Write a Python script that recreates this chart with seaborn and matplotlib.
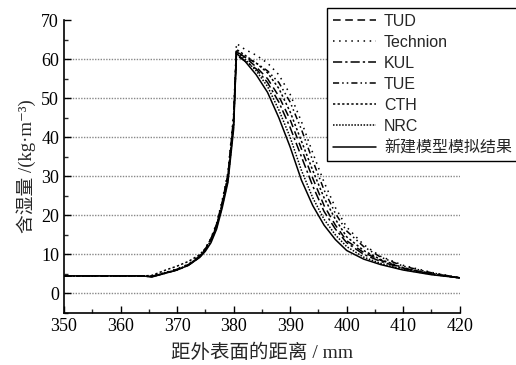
import numpy as np
import pandas as pd
import matplotlib
matplotlib.use("Agg")
import matplotlib.pyplot as plt
from matplotlib.font_manager import FontProperties
from matplotlib.ticker import MultipleLocator
import seaborn as sns

# ---------------- data ----------------
x_mm = [350, 364, 365.5, 368, 370, 372, 374, 375, 376, 377, 378, 379, 380, 380.5,
        382, 384, 386, 388, 390, 392, 394, 396, 398, 400, 403, 406, 410, 415, 420]

series_names = ["TUD", "Technion", "KUL", "TUE", "CTH", "NRC", "新建模型模拟结果"]

tud = [4.5, 4.5, 4.4, 5.3, 6.2, 7.4, 9.6, 11.4, 14.0, 17.8, 23.5, 30.5, 45.0, 62.0,
       60.5, 58.0, 55.0, 50.5, 44.5, 37.0, 29.5, 22.5, 17.5, 13.5, 10.5, 8.5, 6.5, 5.0, 4.0]
technion = [4.5, 4.5, 4.4, 5.4, 6.3, 7.5, 9.7, 11.5, 14.2, 18.0, 24.0, 31.0, 46.0, 64.0,
            62.5, 61.0, 59.0, 56.0, 51.0, 44.0, 36.0, 28.5, 22.0, 17.0, 12.5, 9.5, 7.2, 5.4, 4.0]
kul = [4.5, 4.5, 4.3, 5.2, 6.0, 7.2, 9.3, 11.2, 13.8, 17.5, 23.0, 30.0, 44.0, 61.0,
       59.5, 57.5, 54.0, 49.0, 42.5, 35.0, 27.5, 21.0, 16.5, 13.0, 10.0, 8.2, 6.4, 5.0, 4.0]
tue = [4.5, 4.5, 4.3, 5.3, 6.1, 7.3, 9.5, 11.2, 13.6, 17.2, 23.0, 29.5, 43.5, 62.0,
       60.5, 59.0, 57.0, 54.0, 49.0, 42.0, 34.0, 26.5, 20.5, 16.0, 12.0, 9.3, 7.0, 5.3, 4.0]
cth = [4.5, 4.5, 4.6, 6.0, 7.0, 8.2, 9.9, 11.5, 14.0, 17.5, 23.0, 30.0, 44.0, 62.5,
       61.0, 59.0, 56.5, 52.5, 46.5, 39.0, 31.5, 24.5, 19.0, 14.5, 11.0, 8.7, 6.6, 5.1, 4.0]
nrc = [4.5, 4.5, 4.3, 5.3, 6.1, 7.3, 9.4, 11.0, 13.3, 17.0, 22.5, 29.0, 43.0, 62.0,
       60.0, 57.0, 53.0, 47.0, 40.0, 31.5, 24.5, 19.0, 15.0, 12.0, 9.3, 7.7, 6.1, 4.9, 4.0]
new_model = [4.5, 4.5, 4.2, 5.2, 6.0, 7.2, 9.2, 10.8, 13.0, 16.5, 22.0, 28.5, 42.0, 61.5,
             59.5, 56.0, 51.5, 45.0, 37.5, 29.0, 22.5, 17.5, 13.8, 11.0, 8.8, 7.4, 6.0, 4.8, 4.0]

x_ticks = [350, 360, 370, 380, 390, 400, 410, 420]
y_ticks = [0, 10, 20, 30, 40, 50, 60, 70]

values = dict(zip(series_names, [tud, technion, kul, tue, cth, nrc, new_model]))
df = pd.concat(
    [pd.DataFrame({"x": x_mm, "y": v, "series": k}) for k, v in values.items()],
    ignore_index=True,
)

# ---------------- style ----------------
sns.set_style("ticks")
plt.rcParams["font.family"] = ["Liberation Serif", "Noto Sans CJK SC", "DejaVu Serif"]

dash_map = {
    "TUD": (5, 3),
    "Technion": (1, 3),
    "KUL": (6, 2, 1.5, 2),
    "TUE": (4, 2, 1, 2, 1, 2),
    "CTH": (1.5, 1.5),
    "NRC": (1, 1),
    "新建模型模拟结果": "",
}
palette = {k: "black" for k in series_names}

fig = plt.figure(figsize=(5.16, 3.65), dpi=100)
ax = fig.add_axes([0.124, 0.1425, 0.767, 0.8025])

for yv in y_ticks[:-1]:
    ax.axhline(yv, color="#888888", lw=1.0, ls=(0, (1, 1)), zorder=0)

sns.lineplot(data=df, x="x", y="y", hue="series", style="series",
             hue_order=series_names, style_order=series_names,
             palette=palette, dashes=dash_map, linewidth=1.1, ax=ax, legend=True)

ax.set_xlim(350, 420)
ax.set_ylim(-5, 70)
ax.set_xticks(x_ticks)
ax.set_yticks(y_ticks)
ax.xaxis.set_minor_locator(MultipleLocator(5))
ax.yaxis.set_minor_locator(MultipleLocator(5))
ax.tick_params(which="major", direction="in", length=5, width=1, labelsize=13, colors="black")
ax.tick_params(which="minor", direction="in", length=3, width=1)
for s in ["top", "right"]:
    ax.spines[s].set_visible(False)
for s in ["left", "bottom"]:
    ax.spines[s].set_linewidth(1.2)
    ax.spines[s].set_color("black")

ax.set_xlabel("距外表面的距离 / mm", fontsize=14, labelpad=6)
ax.set_ylabel("含湿量 /(kg·m⁻³)", fontsize=13.5, labelpad=4)

handles, labels = ax.get_legend_handles_labels()
ax.get_legend().remove()
for h in handles:
    h.set_color("black")
leg = fig.legend(handles, labels, loc="upper left", bbox_to_anchor=(0.634, 0.978),
                 prop=FontProperties(family=["Liberation Sans", "Noto Sans CJK SC"], size=11.5),
                 frameon=True, fancybox=False, framealpha=1, edgecolor="black",
                 handlelength=2.7, handletextpad=0.5, labelspacing=0.38, borderpad=0.35,
                 borderaxespad=0)
leg.get_frame().set_linewidth(1.0)

fig.savefig("out.png", dpi=100)
